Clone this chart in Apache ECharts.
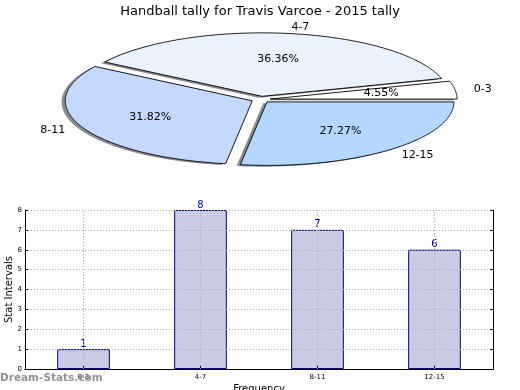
<!DOCTYPE html>
<html><head><meta charset="utf-8">
<script src="https://cdn.jsdelivr.net/npm/echarts@6/dist/echarts.min.js"></script>
<style>html,body{margin:0;padding:0;background:#fff}#c{width:520px;height:390px}</style>
</head><body><div id="c"></div><script>
const titleText = 'Handball tally for Travis Varcoe - 2015 tally';
const categories = ['0-3', '4-7', '8-11', '12-15'];
const values = [1, 8, 7, 6];
const sliceColors = ['#ffffff', '#ebf2ff', '#c5d9ff', '#b3d7ff'];
const yTicks = [0, 1, 2, 3, 4, 5, 6, 7, 8];

const FONT = 'DejaVu Sans';
const total = values.reduce((a, b) => a + b, 0);
const starts = []; let acc = 0;
values.forEach(v => { starts.push(acc); acc += v; });
const EXPLODE = 0.05;

function sliceGeom(i, shadow, api) {
  const a1 = starts[i] / total * 2 * Math.PI;
  const a2 = (starts[i] + values[i]) / total * 2 * Math.PI;
  const mid = (a1 + a2) / 2;
  let dx = EXPLODE * Math.cos(mid), dy = EXPLODE * Math.sin(mid);
  if (shadow) { dx -= 0.02; dy -= 0.02; }
  const pts = [api.coord([dx, dy])];
  const n = Math.max(10, Math.ceil((a2 - a1) / 0.01));
  for (let k = 0; k <= n; k++) {
    const t = a1 + (a2 - a1) * k / n;
    pts.push(api.coord([dx + Math.cos(t), dy + Math.sin(t)]));
  }
  return { pts, mid, dx, dy };
}

function renderSlice(params, api) {
  const i = params.dataIndex;
  const g = sliceGeom(i, false, api);
  const cm = Math.cos(g.mid), sm = Math.sin(g.mid);
  const lp = api.coord([g.dx + 1.1 * cm, g.dy + 1.1 * sm]);
  const pp = api.coord([g.dx + 0.6 * cm, g.dy + 0.6 * sm]);
  const pct = (values[i] / total * 100).toFixed(2) + '%';
  return {
    type: 'group',
    children: [
      { type: 'polygon', shape: { points: g.pts },
        style: { fill: sliceColors[i], stroke: '#000', lineWidth: 0.9 } },
      { type: 'text', x: lp[0], y: lp[1], z2: 10,
        style: { text: categories[i], fill: '#000', font: '11px "' + FONT + '"',
          align: cm >= 0 ? 'left' : 'right', verticalAlign: 'middle' } },
      { type: 'text', x: pp[0], y: pp[1], z2: 10,
        style: { text: pct, fill: '#000', font: '11px "' + FONT + '"',
          align: 'center', verticalAlign: 'middle' } }
    ]
  };
}

function renderShadow(params, api) {
  const g = sliceGeom(params.dataIndex, true, api);
  return { type: 'polygon', shape: { points: g.pts },
    style: { fill: 'rgba(60,60,70,0.6)', stroke: null } };
}

const chart = echarts.init(document.getElementById('c'), null, { renderer: 'canvas' });
chart.setOption({
  animation: false,
  backgroundColor: '#fff',
  title: { text: titleText, left: 'center', top: 0,
    textStyle: { fontFamily: FONT, fontSize: 13, fontWeight: 'normal', color: '#000' } },
  graphic: [{ type: 'text', left: 0, top: 373,
    style: { text: 'Dream-Stats.com', fill: '#939393', font: 'bold 10.5px "' + FONT + '"' }, z: 100 }],
  grid: [
    { left: -1, width: 523.6, top: 23.3, height: 152.4, containLabel: false, outerBoundsMode: 'none' },
    { left: 25, top: 210, width: 468, height: 159, containLabel: false, outerBoundsMode: 'none' }
  ],
  xAxis: [
    { gridIndex: 0, type: 'value', min: -1.4, max: 1.4, show: false },
    { gridIndex: 1, type: 'category', data: categories, boundaryGap: true, z: 5,
      axisLine: { lineStyle: { color: '#000', width: 1 } },
      axisTick: { show: true, inside: true, alignWithLabel: true, length: 3, lineStyle: { color: '#000' } },
      axisLabel: { fontSize: 7, fontFamily: FONT, color: '#000', margin: 5 },
      name: 'Frequency', nameLocation: 'middle', nameGap: 15, nameMoveOverlap: false,
      nameTextStyle: { fontSize: 10, fontFamily: FONT, color: '#000' },
      splitLine: { show: false } },
    { gridIndex: 1, type: 'category', data: categories, position: 'top', z: 5,
      axisLine: { lineStyle: { color: '#000', width: 1 } },
      axisTick: { show: false }, axisLabel: { show: false }, splitLine: { show: false } }
  ],
  yAxis: [
    { gridIndex: 0, type: 'value', min: -1.2, max: 1.2, show: false },
    { gridIndex: 1, type: 'value', min: yTicks[0], max: yTicks[yTicks.length - 1], interval: 1, z: 5,
      axisLine: { show: true, lineStyle: { color: '#000', width: 1 } },
      axisTick: { show: true, inside: true, length: 3, lineStyle: { color: '#000' } },
      axisLabel: { fontSize: 7, fontFamily: FONT, color: '#000', margin: 3 },
      splitLine: { show: true, lineStyle: { type: [1, 2], color: '#aaa', width: 1 } },
      name: 'Stat Intervals', nameLocation: 'middle', nameGap: 11, nameMoveOverlap: false,
      nameTextStyle: { fontSize: 10, fontFamily: FONT, color: '#000' } },
    { gridIndex: 1, type: 'value', min: yTicks[0], max: yTicks[yTicks.length - 1], interval: 1, position: 'right', z: 5,
      axisLine: { show: true, lineStyle: { color: '#000', width: 1 } },
      axisTick: { show: true, inside: true, length: 3, lineStyle: { color: '#000' } },
      axisLabel: { show: false }, splitLine: { show: false } }
  ],
  series: [
    { type: 'custom', xAxisIndex: 0, yAxisIndex: 0, clip: false, z: 1,
      data: values.map(v => [0, 0, v]), encode: { x: 0, y: 1 }, renderItem: renderShadow, silent: true },
    { type: 'custom', xAxisIndex: 0, yAxisIndex: 0, clip: false, z: 2,
      data: values.map(v => [0, 0, v]), encode: { x: 0, y: 1 }, renderItem: renderSlice, silent: true },
    { type: 'bar', xAxisIndex: 1, yAxisIndex: 1, data: values, barWidth: '45%', z: 2,
      itemStyle: { color: '#cbcce4', borderColor: '#00008b', borderWidth: 1 },
      label: { show: true, position: 'top', distance: 0, color: '#00008b', fontSize: 10, fontFamily: FONT },
      markLine: { silent: true, symbol: 'none', z: 6, label: { show: false },
        lineStyle: { type: [1, 2], color: '#aaa', width: 1 },
        data: categories.map(c => ({ xAxis: c })) } }
  ]
});
</script></body></html>
